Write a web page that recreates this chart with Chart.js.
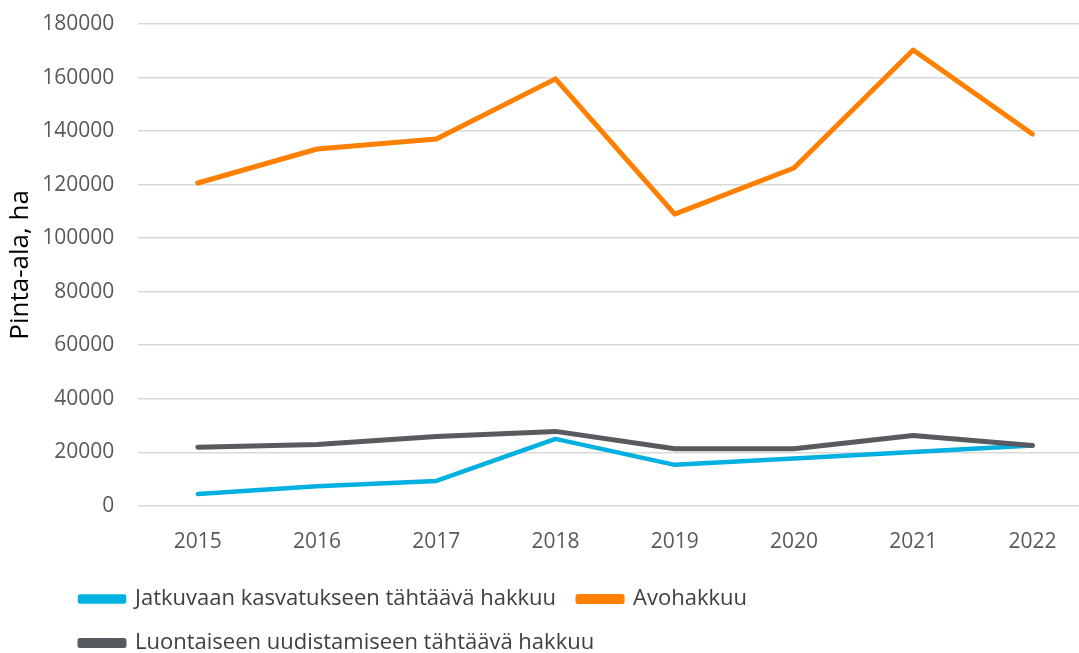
<!DOCTYPE html>
<html>
<head>
<meta charset="utf-8">
<script src="https://cdn.jsdelivr.net/npm/chart.js@4/dist/chart.umd.min.js"></script>
<style>
  html, body { margin: 0; padding: 0; background: #fff; overflow: hidden; }
  #wrap { width: 1092px; height: 653px; }
</style>
</head>
<body>
<div id="wrap"><canvas id="kuvio"></canvas></div>
<script>
// Vuodet ja sarjat (ha)
const vuodet = ['2015', '2016', '2017', '2018', '2019', '2020', '2021', '2022'];
const jatkuva = [4400, 7300, 9300, 25000, 15300, 17700, 20100, 22500];
const avohakkuu = [120600, 133300, 137000, 159500, 109000, 126200, 170300, 138900];
const luontainen = [21900, 22900, 25900, 27800, 21300, 21300, 26300, 22500];

const nimet = [
    'Jatkuvaan kasvatukseen tähtäävä hakkuu',
    'Avohakkuu',
    'Luontaiseen uudistamiseen tähtäävä hakkuu'
];
const varit = ['#00B0E0', '#FF8000', '#575A5E'];

const fontti = "'Open Sans', 'Noto Sans', sans-serif";

// siirretään selite oikeaan kohtaan
const selitteenSiirto = {
    id: 'selitteenSiirto',
    afterLayout(chart) {
        chart.legend.left += 53;
        chart.legend.top -= 5;
    }
};

const ctx = document.getElementById('kuvio').getContext('2d');
new Chart(ctx, {
    type: 'line',
    data: {
        labels: vuodet,
        datasets: [
            { label: nimet[0], data: jatkuva, borderColor: varit[0], backgroundColor: varit[0], borderWidth: 4.5, order: 2 },
            { label: nimet[1], data: avohakkuu, borderColor: varit[1], backgroundColor: varit[1], borderWidth: 5, order: 1 },
            { label: nimet[2], data: luontainen, borderColor: varit[2], backgroundColor: varit[2], borderWidth: 5, order: 0 }
        ]
    },
    options: {
        responsive: true,
        maintainAspectRatio: false,
        animation: false,
        elements: {
            point: { radius: 0 },
            line: { tension: 0, borderCapStyle: 'round', borderJoinStyle: 'round' }
        },
        layout: { padding: { left: 5, right: 0, top: 24, bottom: -16 } },
        plugins: {
            tooltip: { enabled: false },
            legend: {
                position: 'bottom',
                align: 'start',
                labels: {
                    font: { family: fontti, size: 22 },
                    color: '#404040',
                    boxWidth: 44,
                    boxHeight: 5,
                    padding: 22,
                    sort: (a, b) => a.datasetIndex - b.datasetIndex
                }
            }
        },
        scales: {
            x: {
                offset: true,
                grid: { display: false },
                border: { display: false },
                ticks: { font: { family: fontti, size: 21 }, color: '#595959', padding: 16 }
            },
            y: {
                min: 0,
                max: 180000,
                ticks: {
                    stepSize: 20000,
                    font: { family: fontti, size: 21 },
                    color: '#595959',
                    padding: 2,
                    callback: (v) => String(v)
                },
                grid: { color: '#D9D9D9', lineWidth: 1.5, drawTicks: true, tickLength: 22, tickColor: 'transparent' },
                border: { display: false },
                title: {
                    display: true,
                    text: 'Pinta-ala, ha',
                    font: { family: fontti, size: 26 },
                    color: '#000',
                    padding: { top: 0, bottom: 4 }
                }
            }
        }
    },
    plugins: [selitteenSiirto]
});
</script>
</body>
</html>
